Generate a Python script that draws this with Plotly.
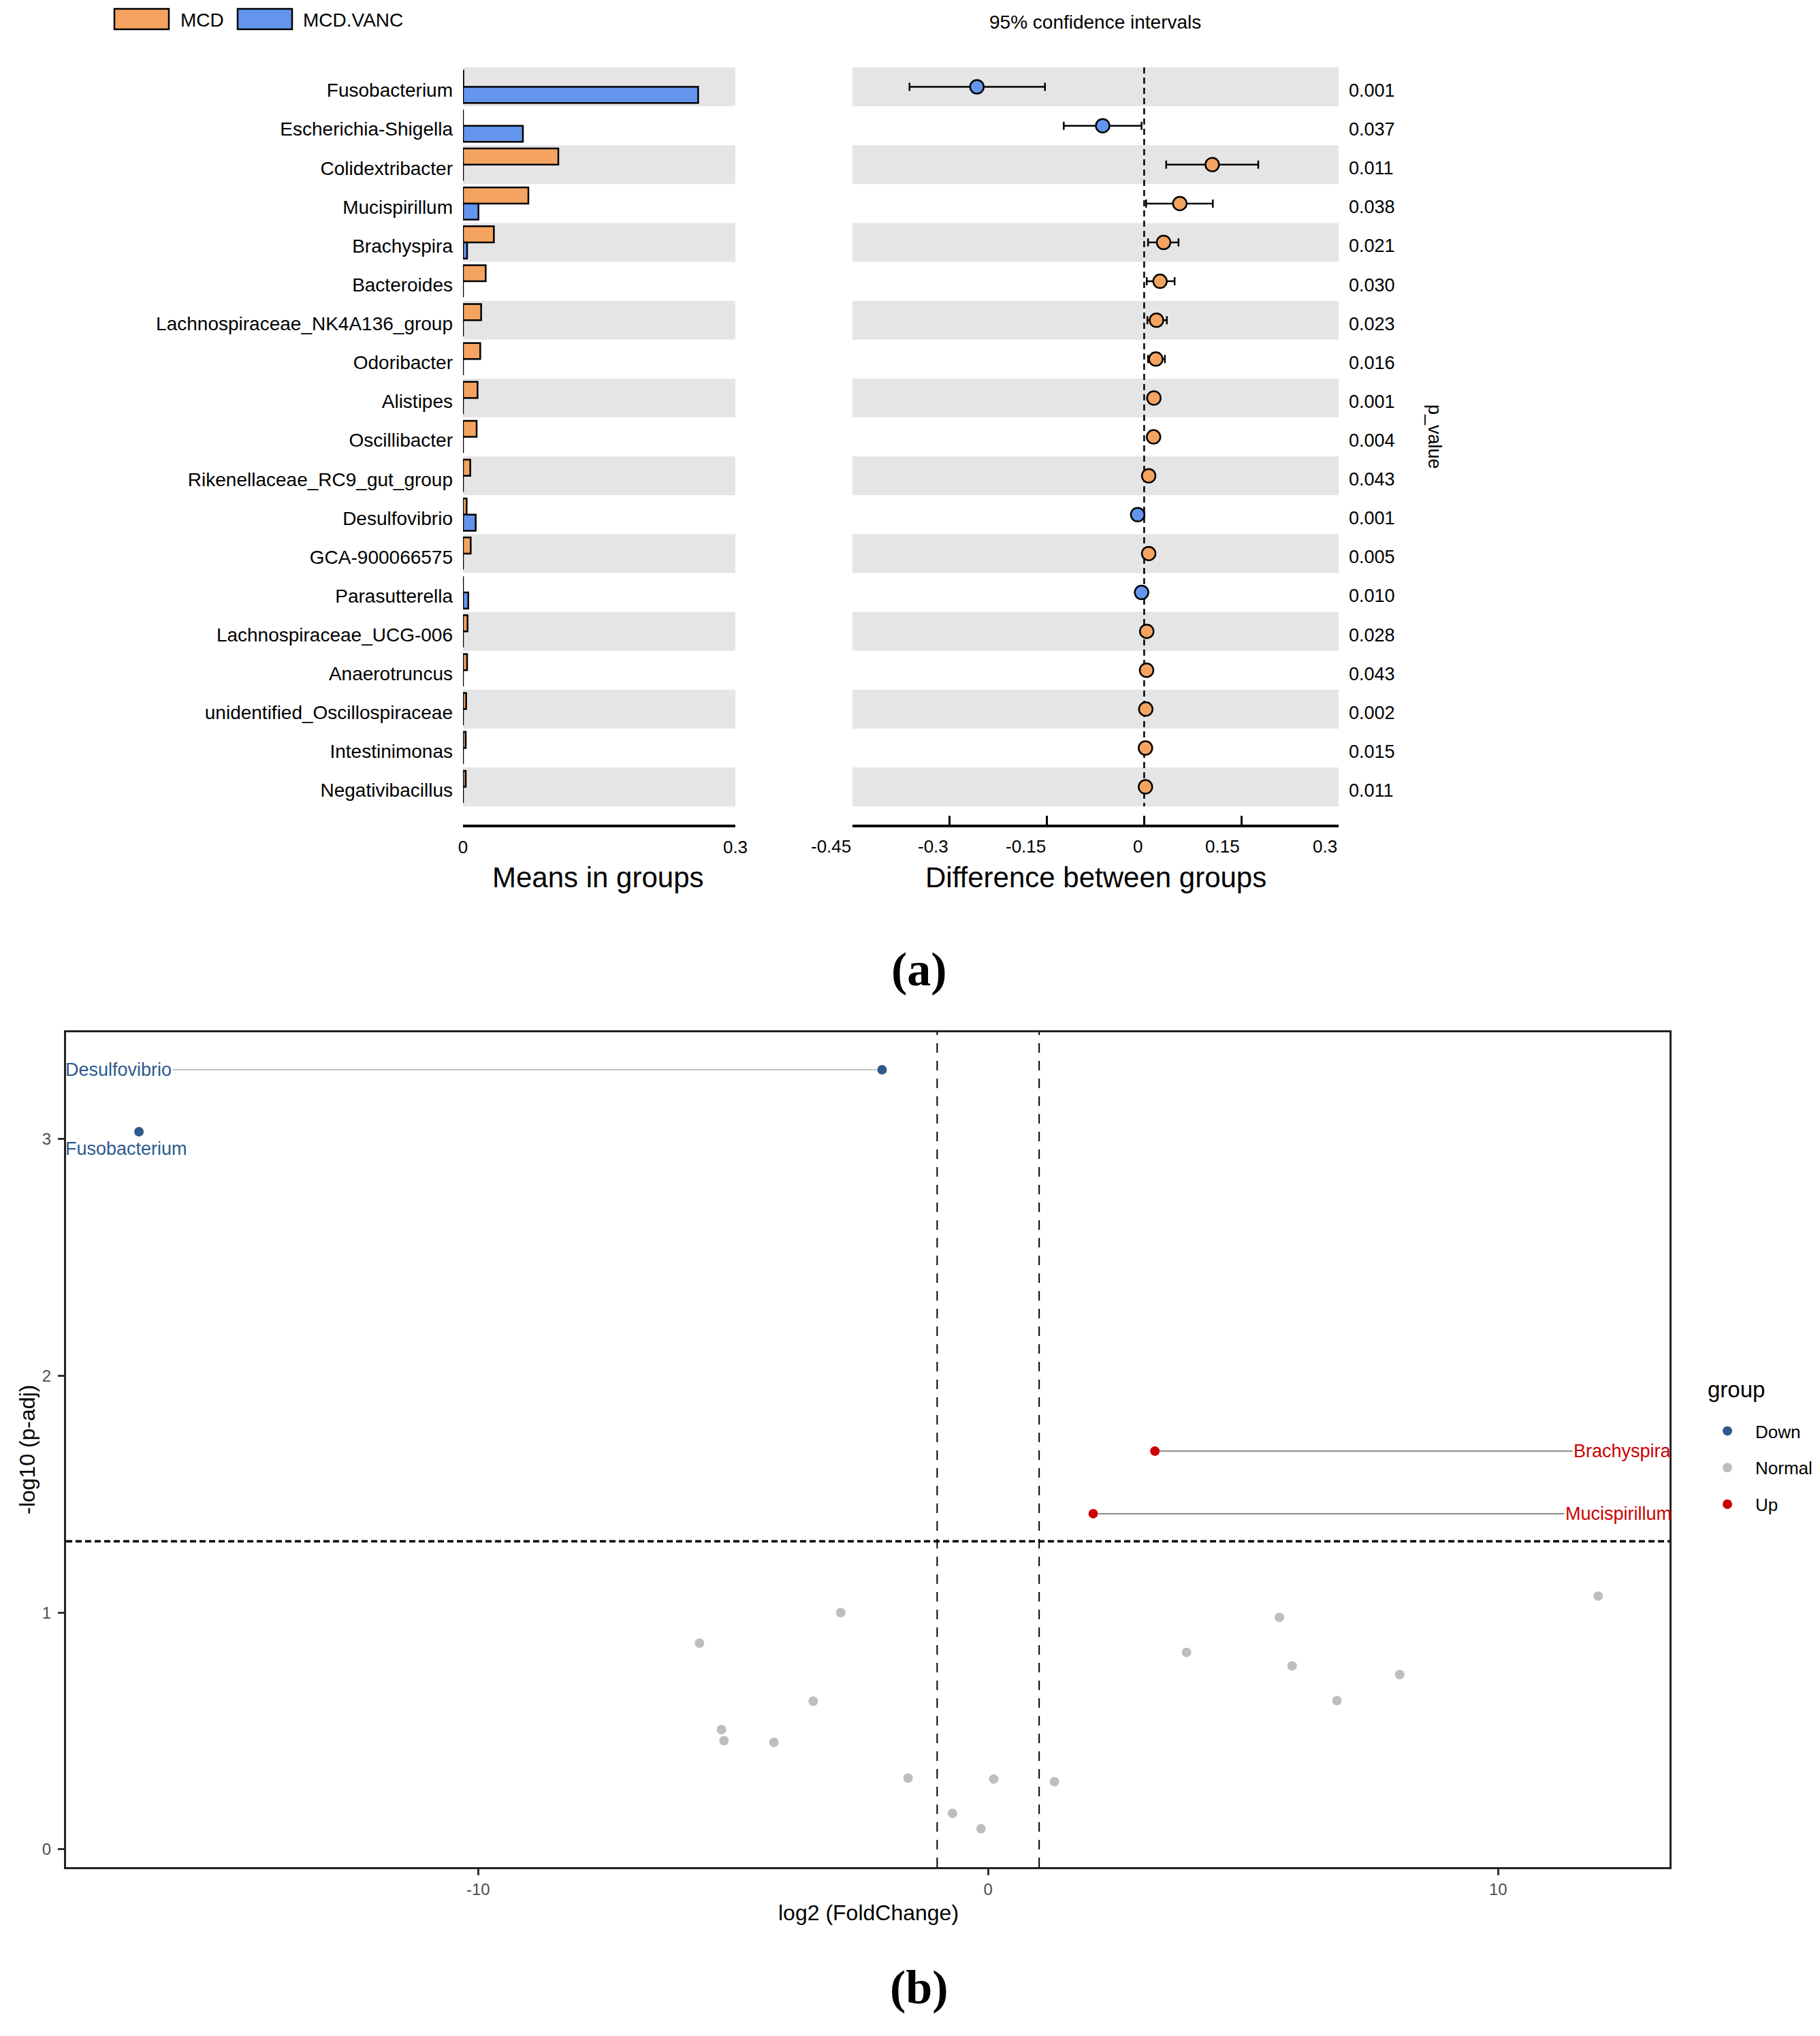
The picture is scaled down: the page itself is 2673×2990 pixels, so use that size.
import plotly.graph_objects as go

# ---------------- data: panel (a) ----------------
genera = ["Fusobacterium", "Escherichia-Shigella", "Colidextribacter", "Mucispirillum",
          "Brachyspira", "Bacteroides", "Lachnospiraceae_NK4A136_group", "Odoribacter",
          "Alistipes", "Oscillibacter", "Rikenellaceae_RC9_gut_group", "Desulfovibrio",
          "GCA-900066575", "Parasutterella", "Lachnospiraceae_UCG-006", "Anaerotruncus",
          "unidentified_Oscillospiraceae", "Intestinimonas", "Negativibacillus"]
mean_mcd = [0.0004, 0.0, 0.105, 0.072, 0.034, 0.025, 0.020, 0.019, 0.016, 0.015,
            0.008, 0.004, 0.0085, 0.0, 0.005, 0.0045, 0.0035, 0.003, 0.003]
mean_vanc = [0.259, 0.066, 0.0, 0.017, 0.0045, 0.0, 0.0, 0.0, 0.0, 0.0,
             0.0, 0.014, 0.0, 0.0058, 0.0, 0.0, 0.0, 0.0, 0.0]
diff = [-0.258, -0.064, 0.105, 0.055, 0.030, 0.0245, 0.019, 0.018, 0.015, 0.0145,
        0.007, -0.010, 0.007, -0.004, 0.004, 0.0037, 0.0025, 0.002, 0.002]
ci_low = [-0.362, -0.124, 0.034, 0.003, 0.006, 0.004, 0.005, 0.006, 0.010, 0.010,
          0.003, -0.014, 0.002, -0.008, 0.001, 0.001, 0.0005, 0.0005, 0.0005]
ci_high = [-0.153, -0.004, 0.176, 0.106, 0.053, 0.047, 0.035, 0.032, 0.021, 0.020,
           0.011, -0.005, 0.012, 0.000, 0.007, 0.006, 0.0045, 0.0035, 0.0035]
p_values = ["0.001", "0.037", "0.011", "0.038", "0.021", "0.030", "0.023", "0.016", "0.001",
            "0.004", "0.043", "0.001", "0.005", "0.010", "0.028", "0.043", "0.002", "0.015", "0.011"]
group_names = ["MCD", "MCD.VANC"]
mean_ticks = [0, 0.3]
diff_ticks = [-0.45, -0.3, -0.15, 0, 0.15, 0.3]

# ---------------- data: panel (b) ----------------
down_names = ["Desulfovibrio", "Fusobacterium"]
down_lfc = [-2.08, -16.65]
down_nlp = [3.293, 3.031]
down_label_dy = [0.0, -0.072]
up_names = ["Brachyspira", "Mucispirillum"]
up_lfc = [3.27, 2.06]
up_nlp = [1.682, 1.418]
up_label_dy = [0.0, 0.0]
normal_lfc = [11.96, -2.89, 5.71, -5.66, 3.89, 5.96, 8.07, -3.43, 6.84, -5.23, -5.18,
              -4.20, -1.57, 0.11, 1.30, -0.70, -0.14]
normal_nlp = [1.070, 1.000, 0.980, 0.871, 0.832, 0.775, 0.738, 0.626, 0.628, 0.506, 0.459,
              0.452, 0.301, 0.297, 0.286, 0.152, 0.087]
fc_cut = 1.0
p_cut = 1.301
vol_xticks = [-10, 0, 10]
vol_yticks = [0, 1, 2, 3]

# ---------------- style ----------------
W, H = 2673, 2990
FONT = "Liberation Sans, Arial, Helvetica, sans-serif"
SERIF = "Liberation Serif, Times New Roman, serif"
ORANGE = "#F4A460"
BLUE = "#6495ED"
BAND = "#E5E5E5"
DOWN_C = "#2E5A8E"
UP_C = "#CC0000"
NORM_C = "#BEBEBE"


def fx(p):
    return p / W


def fy(p):
    return 1 - p / H


idx = list(range(len(genera)))
yr = [len(genera) - 0.5 + 0.47, -0.5]

fig = go.Figure()

fig.add_trace(go.Bar(y=idx, x=mean_mcd, orientation="h", name=group_names[0],
                     marker=dict(color=ORANGE, line=dict(color="black", width=2.5)),
                     xaxis="x", yaxis="y", showlegend=False))
fig.add_trace(go.Bar(y=idx, x=mean_vanc, orientation="h", name=group_names[1],
                     marker=dict(color=BLUE, line=dict(color="black", width=2.5)),
                     xaxis="x", yaxis="y", showlegend=False))

fig.add_trace(go.Scatter(
    x=diff, y=idx, mode="markers", xaxis="x2", yaxis="y2", showlegend=False,
    marker=dict(size=20, color=[ORANGE if d > 0 else BLUE for d in diff],
                line=dict(color="black", width=2.5)),
    error_x=dict(type="data", symmetric=False,
                 array=[h - d for h, d in zip(ci_high, diff)],
                 arrayminus=[d - l for d, l in zip(diff, ci_low)],
                 color="black", thickness=2.5, width=6)))

fig.add_trace(go.Scatter(x=down_lfc, y=down_nlp, mode="markers", name="Down",
                         legendgroup="d", marker=dict(size=14, color=DOWN_C),
                         xaxis="x3", yaxis="y3"))
fig.add_trace(go.Scatter(x=normal_lfc, y=normal_nlp, mode="markers", name="Normal",
                         legendgroup="n", marker=dict(size=14, color=NORM_C),
                         xaxis="x3", yaxis="y3"))
fig.add_trace(go.Scatter(x=up_lfc, y=up_nlp, mode="markers", name="Up",
                         legendgroup="u", marker=dict(size=14, color=UP_C),
                         xaxis="x3", yaxis="y3"))

shapes = []
for i in range(0, len(genera), 2):
    for xr, yrf in (("x domain", "y"), ("x2 domain", "y2")):
        shapes.append(dict(type="rect", xref=xr, yref=yrf, x0=0, x1=1, y0=i - 0.5, y1=i + 0.5,
                           fillcolor=BAND, line=dict(width=0), layer="below"))
shapes.append(dict(type="line", xref="x2", yref="y2", x0=0, x1=0, y0=-0.5, y1=len(genera) - 0.5,
                   line=dict(color="black", width=2.5, dash="9px,6px"), layer="below"))
# legend (a) swatches
sw = [(168, 248, ORANGE), (349, 429, BLUE)]
for x0, x1, c in sw:
    shapes.append(dict(type="rect", xref="paper", yref="paper", x0=fx(x0), x1=fx(x1),
                       y0=fy(43), y1=fy(13), fillcolor=c, line=dict(color="black", width=2.5)))
# volcano thresholds
for v in (-fc_cut, fc_cut):
    shapes.append(dict(type="line", xref="x3", yref="y3 domain", x0=v, x1=v, y0=0, y1=1,
                       line=dict(color="black", width=2, dash="14px,12px"), layer="below"))
shapes.append(dict(type="line", xref="x3 domain", yref="y3", x0=0, x1=1, y0=p_cut, y1=p_cut,
                   line=dict(color="black", width=3.5, dash="9px,5px"), layer="below"))

ann = []


def text(s, x, y, size, xanchor="center", yanchor="middle", color="black", angle=0, family=FONT):
    ann.append(dict(text=s, x=fx(x), y=fy(y), xref="paper", yref="paper", showarrow=False,
                    xanchor=xanchor, yanchor=yanchor, textangle=angle,
                    font=dict(size=size, color=color, family=family)))


text(group_names[0], 263, 29, 28, xanchor="left")
text(group_names[1], 443, 29, 28, xanchor="left")
text("95% confidence intervals", 1608, 33, 28)
text("p_value", 2107, 641, 27, angle=90)
text("Means in groups", 878, 1288, 42)
text("Difference between groups", 1609, 1288, 42)
text("<b>(a)</b>", 1350, 1424, 70, family=SERIF)
text("<b>(b)</b>", 1350, 2918, 70, family=SERIF)
text("log2 (FoldChange)", 1275, 2809, 32)
text("-log10 (p-adj)", 40, 2129, 32, angle=-90)
text("group", 2506, 2040, 33, xanchor="left")

# CI-axis tick labels, right-aligned on their ticks (as in the reference)
for t in diff_ticks:
    ann.append(dict(text="%g" % t, x=t, y=fy(1243), xref="x2", yref="paper", showarrow=False,
                    xanchor="right", yanchor="middle", font=dict(size=26, color="black", family=FONT)))

x3_dom = [97, 2452]
x3_range = [-18.08, 13.36]
y3_range = [-0.075, 3.451]
unit_px = (x3_dom[1] - x3_dom[0]) / (x3_range[1] - x3_range[0])
for names, xs, ys, dys, col, edge, anc, acol, xsh in (
        (down_names, down_lfc, down_nlp, down_label_dy, DOWN_C, x3_range[0], "left", "#C4C4C4", -3),
        (up_names, up_lfc, up_nlp, up_label_dy, UP_C, x3_range[1], "right", "#8C8C8C", 5)):
    for n, xv, yv, dy in zip(names, xs, ys, dys):
        if dy == 0:
            ann.append(dict(text=n, x=xv, y=yv, xref="x3", yref="y3", axref="x3", ayref="y3",
                            ax=edge + xsh / unit_px, ay=yv, xanchor=anc, yanchor="middle",
                            showarrow=True, arrowhead=0, arrowwidth=2, arrowcolor=acol,
                            standoff=7, font=dict(size=27, color=col, family=FONT)))
        else:
            ann.append(dict(text=n, x=edge, y=yv + dy, xref="x3", yref="y3", xshift=xsh,
                            xanchor=anc, yanchor="middle", showarrow=False,
                            font=dict(size=27, color=col, family=FONT)))

dom_a = [fy(1211), fy(99)]
fig.update_layout(
    width=W, height=H, autosize=False,
    margin=dict(l=0, r=0, t=0, b=0),
    paper_bgcolor="white", plot_bgcolor="rgba(0,0,0,0)",
    font=dict(family=FONT, color="black"),
    barmode="group", bargap=0.17, bargroupgap=0,
    shapes=shapes, annotations=ann,
    xaxis=dict(domain=[fx(680), fx(1080)], range=[0, 0.3], anchor="y",
               tickvals=mean_ticks, ticktext=[str(t) for t in mean_ticks],
               ticks="inside", ticklen=13, tickwidth=3, tickcolor="black",
               showline=True, linewidth=3.5, linecolor="black", showgrid=False, zeroline=False,
               tickfont=dict(size=26, color="black"), ticklabelstandoff=7, automargin=False),
    yaxis=dict(domain=dom_a, range=yr, anchor="x", tickvals=idx, ticktext=genera,
               ticks="", showline=False, showgrid=False, zeroline=False,
               tickfont=dict(size=28, color="black"), ticklabelstandoff=14,
               ticklabelshift=-5, automargin=False),
    xaxis2=dict(domain=[fx(1252), fx(1966)], range=[-0.45, 0.3], anchor="y2",
                tickvals=diff_ticks, showticklabels=False,
                ticks="inside", ticklen=13, tickwidth=3, tickcolor="black",
                showline=True, linewidth=3.5, linecolor="black", showgrid=False, zeroline=False,
                automargin=False),
    yaxis2=dict(domain=dom_a, range=yr, anchor="x2", side="right", tickvals=idx,
                ticktext=p_values, ticks="", showline=False, showgrid=False, zeroline=False,
                tickfont=dict(size=27, color="black"), ticklabelstandoff=14,
                ticklabelshift=-5, automargin=False),
    xaxis3=dict(domain=[fx(x3_dom[0]), fx(x3_dom[1])], range=x3_range, anchor="y3",
                tickvals=vol_xticks, ticktext=[str(t) for t in vol_xticks],
                ticks="outside", ticklen=9, tickwidth=2.5, tickcolor="#333333",
                showline=True, mirror=True, linewidth=3, linecolor="#222222",
                showgrid=False, zeroline=False,
                tickfont=dict(size=24, color="#4D4D4D"), ticklabelstandoff=0, automargin=False),
    yaxis3=dict(domain=[fy(2742), fy(1516)], range=y3_range, anchor="x3",
                tickvals=vol_yticks, ticktext=[str(t) for t in vol_yticks],
                ticks="outside", ticklen=9, tickwidth=2.5, tickcolor="#333333",
                showline=True, mirror=True, linewidth=3, linecolor="#222222",
                showgrid=False, zeroline=False,
                tickfont=dict(size=24, color="#4D4D4D"), ticklabelstandoff=5, automargin=False),
    legend=dict(x=fx(2496), y=fy(2078), xanchor="left", yanchor="top",
                font=dict(size=26), traceorder="grouped", tracegroupgap=17, itemwidth=72,
                bgcolor="rgba(0,0,0,0)"),
)

fig.write_html("out.html", config={"displayModeBar": False})

# remove the browser's default page margin so the figure sits at (0, 0)
with open("out.html", encoding="utf-8") as f:
    html = f.read()
html = html.replace("<body>", '<body style="margin:0;padding:0;">', 1)
with open("out.html", "w", encoding="utf-8") as f:
    f.write(html)
